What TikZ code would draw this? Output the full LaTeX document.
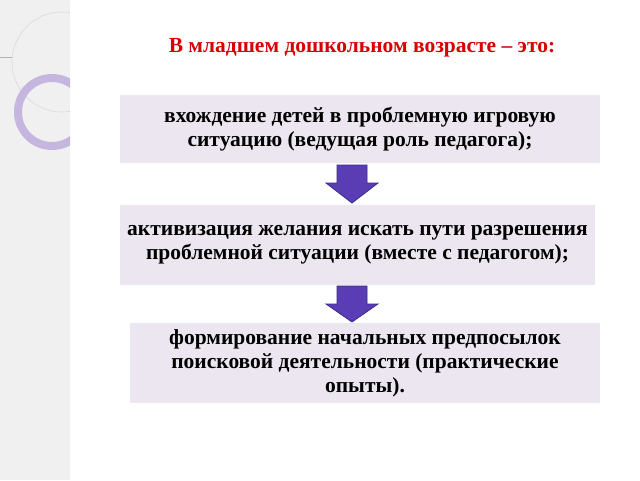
\documentclass[tikz,border=0pt]{standalone}
\usepackage{fontspec}
\setmainfont{Liberation Serif}
\definecolor{boxfill}{HTML}{ECE6F1}
\definecolor{arrfill}{HTML}{5A3DB4}
\definecolor{arrline}{HTML}{3E2A8A}
\definecolor{ringc}{HTML}{C4B6DE}
\tikzset{
  stepbox/.style={fill=boxfill, inner sep=0pt, align=center, font=\fontsize{21.5}{24}\selectfont\bfseries},
  downarrow/.style={fill=arrfill, draw=arrline, line width=0.8pt}
}
\newcommand\blockarrow[2]{% top y, bottom y
  \draw[downarrow] (337,#1) -- (367,#1) -- (367,#1+18) -- (378,#1+18) -- (352,#2) -- (326,#1+18) -- (337,#1+18) -- cycle;}
\begin{document}
\begin{tikzpicture}[x=1pt,y=-1pt]
\useasboundingbox (0,0) rectangle (640,480);
\fill[white] (0,0) rectangle (640,480);
% decoration on the left
\fill[gray!12] (0,0) rectangle (70,480);
\begin{scope}
\clip (0,0) rectangle (70,480);
\draw[gray!30, line width=0.6pt] (62,62) circle (50);
\draw[ringc, line width=8pt] (52,112) circle (34);
\end{scope}
\draw[gray!60, line width=0.6pt] (0,57) -- (12,57);
\draw[gray!60, line width=0.6pt] (57,0) arc[start angle=0, end angle=-80, radius=57];
% title
\node[text=red!85!black, font=\fontsize{21.5}{24}\selectfont\bfseries] (title) at (362,48) {В младшем дошкольном возрасте – это:};
% boxes
\node[stepbox, minimum width=480pt, minimum height=68pt] (first) at (360,129)
  {вхождение детей в проблемную игровую\\ситуацию (ведущая роль педагога);};
\node[stepbox, minimum width=475pt, minimum height=80pt] (second) at (357.5,245)
  {активизация желания искать пути разрешения\\проблемной ситуации (вместе с педагогом);};
\node[stepbox, minimum width=470pt, minimum height=80pt] (third) at (365,363)
  {формирование начальных предпосылок\\поисковой деятельности (практические\\опыты).};
% arrows
\blockarrow{165}{203}
\blockarrow{286}{322}
\end{tikzpicture}
\end{document}
